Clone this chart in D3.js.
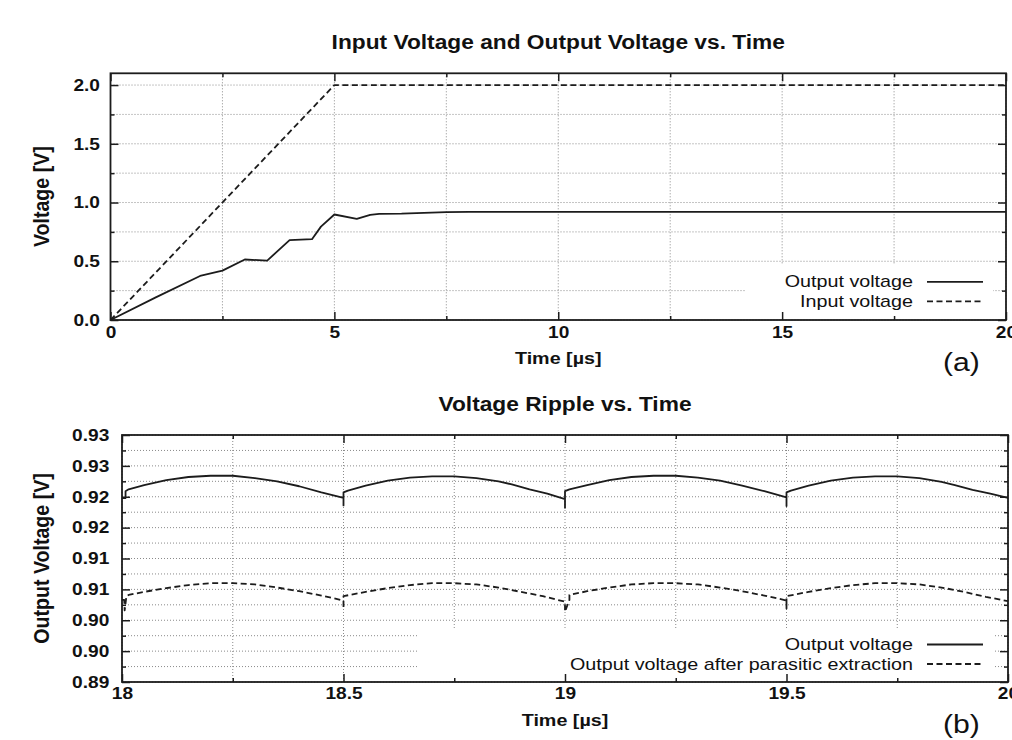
<!DOCTYPE html>
<html>
<head>
<meta charset="utf-8">
<script src="https://cdn.jsdelivr.net/npm/d3@7"></script>
<style>
  body { margin: 0; background: #fff; }
  svg { display: block; }
  text { font-family: "Liberation Sans", Arial, Helvetica, sans-serif; fill: #111; }
</style>
</head>
<body>
<svg id="chart" width="1012" height="740"></svg>
<script>
// ---- data ----
// (a) start-up
const inputTime = [0, 5, 20];
const inputVoltage = [0, 2, 2];
const outputTime = [0, 1, 2, 2.5, 3, 3.5, 4, 4.5, 4.7, 5, 5.5, 5.8, 6, 6.5, 7, 7.5, 8, 10, 12, 14, 16, 18, 20];
const outputVoltage = [0, 0.19, 0.375, 0.42, 0.515, 0.506, 0.68, 0.688, 0.795, 0.898, 0.86, 0.895, 0.903, 0.905, 0.912, 0.918, 0.92, 0.921, 0.921, 0.921, 0.921, 0.921, 0.921];

// (b) ripple, output voltage (solid)
const rippleTime = [18, 18.008, 18.008, 18.015, 18.05, 18.1, 18.15, 18.2, 18.25, 18.3, 18.35, 18.4, 18.45, 18.5, 18.5, 18.5,
  18.51, 18.55, 18.6, 18.65, 18.7, 18.75, 18.8, 18.85, 18.88, 18.92, 18.96, 19, 19, 19,
  19.01, 19.05, 19.1, 19.15, 19.2, 19.25, 19.3, 19.35, 19.4, 19.45, 19.5, 19.5, 19.5,
  19.51, 19.55, 19.6, 19.65, 19.7, 19.75, 19.8, 19.85, 19.88, 19.92, 19.96, 20];
const rippleOutput = [0.9198, 0.9198, 0.9209, 0.9212, 0.9219, 0.9227, 0.9232, 0.9234, 0.9234, 0.9230, 0.9225, 0.9217, 0.9207, 0.9198, 0.9186, 0.9207,
  0.9210, 0.9218, 0.9226, 0.9231, 0.9233, 0.9233, 0.9230, 0.9225, 0.9220, 0.9212, 0.9205, 0.9196, 0.9182, 0.9209,
  0.9212, 0.9219, 0.9227, 0.9232, 0.9234, 0.9234, 0.9231, 0.9226, 0.9218, 0.9209, 0.9199, 0.9185, 0.9207,
  0.9210, 0.9218, 0.9226, 0.9231, 0.9233, 0.9233, 0.9230, 0.9224, 0.9219, 0.9211, 0.9205, 0.9198];

// (b) ripple, after parasitic extraction (dashed)
const parasiticTime = [18, 18.005, 18.006, 18.01, 18.015, 18.05, 18.1, 18.15, 18.2, 18.25, 18.3, 18.35, 18.4, 18.45, 18.5, 18.5, 18.5,
  18.55, 18.6, 18.65, 18.7, 18.75, 18.8, 18.85, 18.9, 18.95, 19, 19, 19.01, 19.01,
  19.05, 19.1, 19.15, 19.2, 19.25, 19.3, 19.35, 19.4, 19.45, 19.5, 19.5, 19.5,
  19.55, 19.6, 19.65, 19.7, 19.75, 19.8, 19.85, 19.9, 19.95, 20];
const parasiticOutput = [0.9033, 0.9033, 0.9016, 0.9039, 0.9041, 0.9046, 0.9052, 0.9057, 0.9060, 0.9060, 0.9058, 0.9053, 0.9047, 0.9040, 0.9032, 0.9019, 0.9039,
  0.9046, 0.9052, 0.9057, 0.9060, 0.9060, 0.9058, 0.9053, 0.9046, 0.9039, 0.9030, 0.9014, 0.9033, 0.9041,
  0.9047, 0.9053, 0.9058, 0.9060, 0.9060, 0.9058, 0.9053, 0.9047, 0.9040, 0.9032, 0.9019, 0.9039,
  0.9046, 0.9052, 0.9057, 0.9060, 0.9060, 0.9058, 0.9053, 0.9046, 0.9038, 0.9031];

// ticks and labels
const topXTicks = [0, 5, 10, 15, 20];
const topXLabels = ["0", "5", "10", "15", "20"];
const topXMinor = [2.5, 7.5, 12.5, 17.5];
const topYTicks = [0, 0.5, 1, 1.5, 2];
const topYLabels = ["0.0", "0.5", "1.0", "1.5", "2.0"];
const topYMinor = [0.25, 0.75, 1.25, 1.75];

const botXTicks = [18, 18.5, 19, 19.5, 20];
const botXLabels = ["18", "18.5", "19", "19.5", "20"];
const botXMinor = [18.25, 18.75, 19.25, 19.75];
const botYTicks = [0.89, 0.895, 0.9, 0.905, 0.91, 0.915, 0.92, 0.925, 0.93];
const botYLabels = ["0.89", "0.90", "0.90", "0.91", "0.91", "0.92", "0.92", "0.93", "0.93"];
const botYMinor = [0.8925, 0.8975, 0.9025, 0.9075, 0.9125, 0.9175, 0.9225, 0.9275];

// the source figure is stretched sideways, so text is widened to match
const SX = 1.16;
const INK = "#1c1c1c";
const DASH = "6,3.5";

const svg = d3.select("#chart");

function stretch(sel) {
  sel.each(function() {
    const t = d3.select(this);
    const x = +t.attr("x") || 0, y = +t.attr("y") || 0;
    t.attr("x", null).attr("y", null)
      .attr("transform", `translate(${x},${y}) scale(${SX},1)`);
  });
}

function addText(g, str, x, y, opts) {
  const t = g.append("text")
    .attr("transform", `translate(${x},${y}) scale(${SX},1)` + (opts.rotate ? " rotate(-90)" : ""))
    .attr("text-anchor", opts.anchor || "middle")
    .style("font-size", opts.size + "px")
    .style("font-weight", opts.bold ? "bold" : "normal")
    .text(str);
  return t;
}

function drawPanel(cfg) {
  const g = svg.append("g");
  const x = d3.scaleLinear().domain(cfg.xDomain).range([cfg.left, cfg.right]);
  const y = d3.scaleLinear().domain(cfg.yDomain).range([cfg.bottom, cfg.top]);

  // dotted grid at major and minor ticks
  const grid = g.append("g")
    .attr("stroke", "#8a8a8a")
    .attr("stroke-width", 1)
    .attr("stroke-dasharray", "1,2");
  grid.selectAll(".vg")
    .data(cfg.xTicks.concat(cfg.xMinor))
    .join("line")
    .attr("x1", d => x(d)).attr("x2", d => x(d))
    .attr("y1", cfg.top).attr("y2", cfg.bottom);
  grid.selectAll(".hg")
    .data(cfg.yTicks.concat(cfg.yMinor))
    .join("line")
    .attr("x1", cfg.left).attr("x2", cfg.right)
    .attr("y1", d => y(d)).attr("y2", d => y(d));

  // key box hides the grid under it
  g.append("rect")
    .attr("x", cfg.keyBox[0]).attr("y", cfg.keyBox[1])
    .attr("width", cfg.right - 13 - cfg.keyBox[0])
    .attr("height", cfg.bottom - 1 - cfg.keyBox[1])
    .attr("fill", "#fff");

  // curves
  cfg.series.forEach(s => {
    const line = d3.line()
      .x(d => x(d[0]))
      .y(d => y(d[1]));
    g.append("path")
      .datum(d3.zip(s.t, s.v))
      .attr("d", line)
      .attr("fill", "none")
      .attr("stroke", INK)
      .attr("stroke-width", 1.8)
      .attr("stroke-linejoin", "round")
      .attr("stroke-dasharray", s.dashed ? DASH : null);
  });

  // axes: inward ticks on all four sides
  const axes = g.append("g");
  const bottomAxis = axes.append("g")
    .attr("transform", `translate(0,${cfg.bottom})`)
    .call(d3.axisBottom(x).tickValues(cfg.xTicks).tickFormat((d, i) => cfg.xLabels[i])
      .tickSizeInner(-8).tickSizeOuter(0).tickPadding(cfg.xPad));
  axes.append("g").attr("transform", `translate(0,${cfg.bottom})`)
    .call(d3.axisBottom(x).tickValues(cfg.xMinor).tickFormat("").tickSizeInner(-4).tickSizeOuter(0));
  axes.append("g").attr("transform", `translate(0,${cfg.top})`)
    .call(d3.axisTop(x).tickValues(cfg.xTicks).tickFormat("").tickSizeInner(-8).tickSizeOuter(0));
  axes.append("g").attr("transform", `translate(0,${cfg.top})`)
    .call(d3.axisTop(x).tickValues(cfg.xMinor).tickFormat("").tickSizeInner(-4).tickSizeOuter(0));
  const leftAxis = axes.append("g")
    .attr("transform", `translate(${cfg.left},0)`)
    .call(d3.axisLeft(y).tickValues(cfg.yTicks).tickFormat((d, i) => cfg.yLabels[i])
      .tickSizeInner(-8).tickSizeOuter(0).tickPadding(cfg.yPad));
  axes.append("g").attr("transform", `translate(${cfg.left},0)`)
    .call(d3.axisLeft(y).tickValues(cfg.yMinor).tickFormat("").tickSizeInner(-4).tickSizeOuter(0));
  axes.append("g").attr("transform", `translate(${cfg.right},0)`)
    .call(d3.axisRight(y).tickValues(cfg.yTicks).tickFormat("").tickSizeInner(-8).tickSizeOuter(0));
  axes.append("g").attr("transform", `translate(${cfg.right},0)`)
    .call(d3.axisRight(y).tickValues(cfg.yMinor).tickFormat("").tickSizeInner(-4).tickSizeOuter(0));

  axes.selectAll(".domain").remove();
  axes.selectAll(".tick line").attr("stroke", INK).attr("stroke-width", 1.5);
  axes.selectAll(".tick text")
    .attr("fill", "#111")
    .style("font-size", "16.5px")
    .style("font-weight", "bold")
    .style("font-family", "'Liberation Sans', Arial, sans-serif");
  stretch(bottomAxis.selectAll(".tick text"));
  stretch(leftAxis.selectAll(".tick text"));

  // frame
  g.append("rect")
    .attr("x", cfg.left).attr("y", cfg.top)
    .attr("width", cfg.right - cfg.left).attr("height", cfg.bottom - cfg.top)
    .attr("fill", "none").attr("stroke", INK).attr("stroke-width", 1.8);

  // titles and labels
  const cx = (cfg.left + cfg.right) / 2;
  addText(g, cfg.title, cx, cfg.top - 24, { size: 19.6, bold: true });
  addText(g, cfg.xTitle, cx, cfg.bottom + 44, { size: 17, bold: true });
  addText(g, cfg.yTitle, 49, (cfg.top + cfg.bottom) / 2, { size: 19.6, bold: true, rotate: true });
  addText(g, cfg.tag, 943, cfg.bottom + 51, { size: 26, anchor: "start" });

  // key
  cfg.series.forEach((s, i) => {
    const ky = cfg.keyY + i * 19.5;
    addText(g, s.name, 913, ky, { size: 17, anchor: "end" });
    g.append("line")
      .attr("x1", 927).attr("x2", 983)
      .attr("y1", ky - 5.5).attr("y2", ky - 5.5)
      .attr("stroke", INK).attr("stroke-width", 1.8)
      .attr("stroke-dasharray", s.dashed ? DASH : null);
  });
}

drawPanel({
  left: 110.5, right: 1006, top: 73.3, bottom: 320,
  xDomain: [0, 20], yDomain: [0, 2.1],
  xTicks: topXTicks, xLabels: topXLabels, xMinor: topXMinor,
  yTicks: topYTicks, yLabels: topYLabels, yMinor: topYMinor,
  xPad: 6.5, yPad: 10.5,
  keyBox: [745, 264], keyY: 287.3,
  title: "Input Voltage and Output Voltage vs. Time",
  xTitle: "Time [\u00b5s]", yTitle: "Voltage [V]", tag: "(a)",
  series: [
    { name: "Output voltage", t: outputTime, v: outputVoltage, dashed: false },
    { name: "Input voltage", t: inputTime, v: inputVoltage, dashed: true }
  ]
});

drawPanel({
  left: 122, right: 1008, top: 435, bottom: 682,
  xDomain: [18, 20], yDomain: [0.89, 0.93],
  xTicks: botXTicks, xLabels: botXLabels, xMinor: botXMinor,
  yTicks: botYTicks, yLabels: botYLabels, yMinor: botYMinor,
  xPad: 5.6, yPad: 12.7,
  keyBox: [418, 630], keyY: 650,
  title: "Voltage Ripple vs. Time",
  xTitle: "Time [\u00b5s]", yTitle: "Output Voltage [V]", tag: "(b)",
  series: [
    { name: "Output voltage", t: rippleTime, v: rippleOutput, dashed: false },
    { name: "Output voltage after parasitic extraction", t: parasiticTime, v: parasiticOutput, dashed: true }
  ]
});
</script>
</body>
</html>
